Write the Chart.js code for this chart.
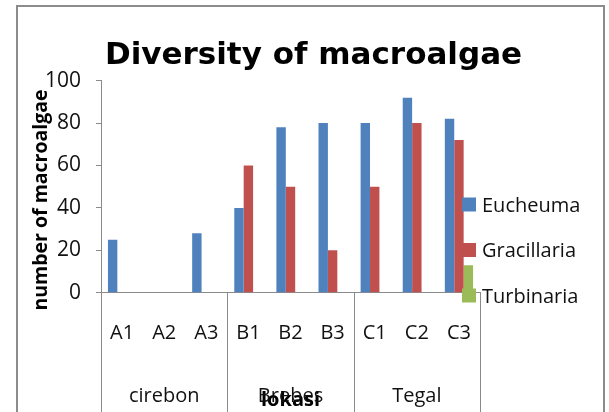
<!DOCTYPE html>
<html>
<head>
<meta charset="utf-8">
<script src="https://cdn.jsdelivr.net/npm/chart.js@4"></script>
<style>
html,body{margin:0;padding:0;background:#fff;}
</style>
</head>
<body>
<canvas id="Charts" width="609" height="412"></canvas>
<script>
var categories = ['A1','A2','A3','B1','B2','B3','C1','C2','C3'];
var groups = ['cirebon','Brebes','Tegal'];
var eucheuma = [25,0,28,40,78,80,80,92,82];
var gracillaria = [0,0,0,60,50,20,50,80,72];
var turbinaria = [0,0,0,0,0,0,0,0,13];
var seriesNames = ['Eucheuma','Gracillaria','Turbinaria'];
var seriesColors = ['#4F81BD','#C0504D','#9BBB59'];
var chartTitle = 'Diversity of macroalgae';
var yTitle = 'number of macroalgae';
var xTitle = 'lokasi';

// frame, group labels, y title and legend drawn on top of what chart.js gives
var extras = {
    id: 'extras',
    beforeDraw: function(chart){
        var ctx = chart.ctx;
        ctx.save();
        ctx.strokeStyle = '#8c8c8c';
        ctx.lineWidth = 2;
        ctx.strokeRect(17, 6, 587, 430);
        ctx.restore();
    },
    afterDraw: function(chart){
        var ctx = chart.ctx;
        var xs = chart.scales.x;
        var area = chart.chartArea;
        ctx.save();
        // lines between the groups under the axis
        ctx.strokeStyle = '#8a8a8a';
        ctx.lineWidth = 1;
        for(let i=0;i<=groups.length;i++){
            var px = Math.round(xs.getPixelForValue(i*3-0.5))+0.5;
            ctx.beginPath();
            ctx.moveTo(px, area.bottom);
            ctx.lineTo(px, chart.height);
            ctx.stroke();
        }
        ctx.fillStyle = '#111';
        ctx.font = '20px "Open Sans"';
        ctx.textAlign = 'center';
        ctx.textBaseline = 'alphabetic';
        groups.forEach(function(g,i){
            ctx.fillText(g, xs.getPixelForValue(i*3+1), 401.5);
        });
        // y axis title
        ctx.save();
        ctx.translate(47, 200);
        ctx.rotate(-Math.PI/2);
        ctx.font = 'bold 19.5px "Open Sans"';
        ctx.fillStyle = '#000';
        ctx.fillText(yTitle, 0, 0);
        ctx.restore();
        // legend
        ctx.textAlign = 'left';
        ctx.font = '20px "Open Sans"';
        chart.data.datasets.forEach(function(ds,i){
            var cy = 204.5 + i*45.5;
            ctx.fillStyle = ds.backgroundColor;
            ctx.fillRect(462, cy-7, 14, 14);
            ctx.fillStyle = '#111';
            ctx.fillText(ds.label, 482, cy+7.3);
        });
        ctx.restore();
    }
};

var ctx = document.getElementById('Charts').getContext('2d');
var myChart = new Chart(ctx, {
    type: 'bar',
    data: {
        labels: categories,
        datasets: [
            {label: seriesNames[0], data: eucheuma, backgroundColor: seriesColors[0]},
            {label: seriesNames[1], data: gracillaria, backgroundColor: seriesColors[1]},
            {label: seriesNames[2], data: turbinaria, backgroundColor: seriesColors[2]}
        ]
    },
    options: {
        responsive: false,
        animation: false,
        devicePixelRatio: 1,
        layout: {padding: {left: 18, right: 0, top: 0, bottom: 0}},
        datasets: {bar: {categoryPercentage: 0.67, barPercentage: 1, borderWidth: 0}},
        plugins: {
            legend: {display: false},
            tooltip: {enabled: false},
            title: {
                display: true,
                text: chartTitle,
                color: '#000',
                font: {family: '"DejaVu Sans"', size: 31, weight: 'bold', lineHeight: 1.2},
                padding: {top: 37.5, bottom: 6}
            }
        },
        scales: {
            x: {
                grid: {display: true, drawOnChartArea: false, drawTicks: false},
                border: {display: true, color: '#8a8a8a', width: 1},
                ticks: {color: '#111', font: {family: '"Open Sans"', size: 20}, padding: 29, maxRotation: 0, autoSkip: false},
                title: {display: true, text: xTitle, color: '#000', font: {family: '"Open Sans"', size: 20, weight: 'bold'}, padding: {top: 0, bottom: 0}},
                afterFit: function(s){ s.height = 119.3; }
            },
            y: {
                min: 0,
                max: 100,
                grid: {display: true, drawOnChartArea: false, drawTicks: true, tickLength: 5, color: '#8a8a8a'},
                border: {display: true, color: '#8a8a8a', width: 1},
                ticks: {stepSize: 20, color: '#111', font: {family: '"Open Sans"', size: 21}, padding: 15},
                afterFit: function(s){ s.width = 83; }
            },
            pad: {
                type: 'linear',
                position: 'right',
                display: true,
                grid: {display: false},
                border: {display: false},
                ticks: {display: false},
                afterFit: function(s){ s.width = 129; }
            }
        }
    },
    plugins: [extras]
});
</script>
</body>
</html>
